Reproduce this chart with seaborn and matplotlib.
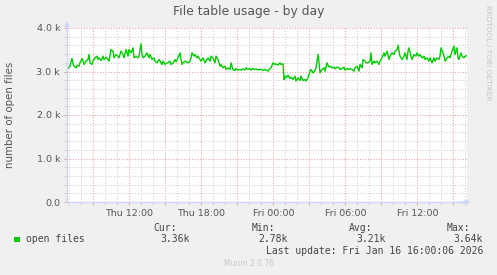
import numpy as np
import pandas as pd
import matplotlib
matplotlib.use("Agg")
import matplotlib.pyplot as plt
import matplotlib.dates as mdates
import matplotlib.ticker as mticker
from matplotlib.patches import Rectangle
import seaborn as sns

# ---------------- data ----------------
start_time = "2026-01-15 06:48"      # time of sample step 0
step_minutes = 5                      # rrd step

sample_step = [
    0, 2, 3, 5, 6, 7, 9, 10, 12, 13, 15, 16, 17, 19, 21, 22, 23, 25, 26, 28,
    30, 31, 32, 34, 36, 37, 39, 41, 42, 44, 46, 47, 49, 51, 52, 54, 56, 57, 59, 61,
    62, 64, 66, 67, 69, 71, 72, 74, 75, 76, 78, 80, 82, 83, 85, 87, 88, 90, 92, 93,
    95, 96, 98, 100,
    101, 103, 104, 106, 108, 109, 111, 113, 114, 115, 116, 118, 119, 121, 123, 124, 125, 127, 128, 130,
    131, 133, 134, 136, 138, 139, 141, 143, 144, 146, 148, 149, 151, 153, 154, 156, 158, 159, 161, 163,
    164, 166, 168, 169, 171, 173, 174, 176, 178, 179, 181, 183, 184, 186, 188, 189, 191, 193, 194, 196,
    198, 199,
    201, 203, 204, 206, 208, 209, 211, 213, 214, 216, 217, 218, 219, 221, 223, 224, 226, 228, 229, 231,
    233, 234, 236, 238, 239, 241, 243, 244, 246, 248, 249, 251, 252, 253, 255, 257, 258, 260, 262, 263,
    265, 267, 268, 270, 272, 273, 275, 277, 278, 280, 282, 283, 285, 287, 288, 290, 292, 293, 295, 296,
    298, 299,
    301, 303, 304, 305, 307, 308, 310, 312, 313, 315, 317, 318, 320, 322, 323, 325, 327, 328, 330, 331,
    332, 333, 335, 337, 338, 340, 341, 342, 344, 345, 347, 349, 350, 352, 353, 355, 357, 358, 360, 362,
    363, 365, 367, 368, 370, 372, 373, 374, 376, 377, 378, 380, 382, 383, 385, 387, 388, 390, 391, 392,
    394, 395, 397, 398, 400,
]

open_files = [
    3046, 3100, 3123, 3299, 3176, 3123, 3084, 3146, 3123, 3199, 3299, 3238, 3161, 3238, 3276, 3391, 3199, 3161, 3238, 3314,
    3352, 3276, 3314, 3253, 3352, 3276, 3329, 3276, 3238, 3506, 3467, 3314, 3391, 3352, 3314, 3467, 3391, 3314, 3506, 3352,
    3506, 3429, 3544, 3314, 3352, 3314, 3352, 3640, 3391, 3314, 3352, 3429, 3314, 3391, 3276, 3314, 3238, 3199, 3276, 3238,
    3161, 3238, 3161, 3199,
    3199, 3238, 3161, 3199, 3276, 3222, 3314, 3429, 3276, 3161, 3199, 3238, 3222, 3199, 3238, 3314, 3429, 3352, 3391, 3314,
    3352, 3276, 3238, 3314, 3199, 3238, 3314, 3238, 3352, 3314, 3199, 3352, 3276, 3123, 3161, 3084, 3123, 3046, 3084, 3046,
    3199, 3046, 3023, 3069, 3031, 3046, 3031, 3061, 3038, 3084, 3046, 3069, 3031, 3069, 3046, 3061, 3038, 3046, 3054, 3023,
    3046, 3038,
    3008, 3069, 3084, 3199, 3161, 3176, 3146, 3199, 3161, 3176, 2816, 2893, 2854, 2916, 2839, 2870, 2816, 2893, 2780, 2854,
    2793, 2893, 2793, 2816, 2780, 2854, 3008, 3046, 2969, 3023, 3084, 3391, 3199, 2969, 3046, 3084, 3008, 3199, 3100, 3123,
    3084, 3100, 3061, 3100, 3084, 3046, 3069, 3100, 3031, 3069, 3046, 3069, 3046, 3008, 3084, 3123, 3008, 3161, 3084, 3276,
    3238, 3199,
    3199, 3238, 3429, 3161, 3238, 3199, 3238, 3161, 3238, 3314, 3429, 3352, 3467, 3276, 3352, 3429, 3391, 3467, 3506, 3605,
    3467, 3352, 3276, 3352, 3429, 3276, 3467, 3544, 3352, 3276, 3391, 3352, 3429, 3352, 3391, 3314, 3352, 3276, 3314, 3238,
    3314, 3199, 3314, 3238, 3314, 3276, 3352, 3544, 3429, 3352, 3238, 3314, 3352, 3314, 3467, 3582, 3391, 3544, 3314, 3276,
    3429, 3352, 3314, 3352, 3360,
]

y_ticks = [0, 1000, 2000, 3000, 4000]
y_tick_labels = ["0.0", "1.0 k", "2.0 k", "3.0 k", "4.0 k"]
y_minor_step = 200
window_steps = 400

series_name = "open files"
stat_names = ["Cur:", "Min:", "Avg:", "Max:"]
stat_values = ["3.36k", "2.78k", "3.21k", "3.64k"]
title_text = "File table usage - by day"
ylabel_text = "number of open files"
last_update_text = "Last update: Fri Jan 16 16:00:06 2026"
footer_text = "Munin 2.0.76"
credit_text = "RRDTOOL / TOBI OETIKER"

# ---------------- styling ----------------
BACK = "#F0F0F0"
FONT = "#555555"
AXIS = "#CFD6F8"
MGRID = "#E6A3A3"
GRID = "#D2D2D2"
LINE = "#00CC00"

t0 = pd.Timestamp(start_time)
df = pd.DataFrame({
    "time": t0 + pd.to_timedelta(np.array(sample_step) * step_minutes, unit="min"),
    "files": open_files,
})

W, H = 497, 275
fig = plt.figure(figsize=(W / 100, H / 100), dpi=100, facecolor=BACK)
ax = fig.add_axes([67 / W, 1 - 202 / H, 400 / W, 174 / H])
ax.set_facecolor("white")

sns.lineplot(data=df, x="time", y="files", ax=ax, color=LINE, linewidth=1.0)

ax.set_xlim(t0, t0 + pd.Timedelta(minutes=window_steps * step_minutes))
ax.set_ylim(y_ticks[0], y_ticks[-1])
ax.set_xlabel("")
ax.set_ylabel("")

ax.yaxis.set_major_locator(mticker.FixedLocator(y_ticks))
ax.yaxis.set_major_formatter(mticker.FixedFormatter(y_tick_labels))
ax.yaxis.set_minor_locator(mticker.MultipleLocator(y_minor_step))

ax.xaxis.set_major_locator(mdates.HourLocator(byhour=range(0, 24, 3)))
ax.xaxis.set_minor_locator(mdates.HourLocator())


def fmt(v, pos):
    d = mdates.num2date(v)
    return d.strftime("%a %H:%M") if d.hour % 6 == 0 else ""


ax.xaxis.set_major_formatter(mticker.FuncFormatter(fmt))

ax.set_axisbelow(True)
ax.grid(which="major", color=MGRID, linestyle=(0, (1, 1.6)), linewidth=0.75)
ax.grid(which="minor", color=GRID, linestyle=(0, (1, 1.6)), linewidth=0.75)

ax.tick_params(which="major", length=2.5, width=0.75, color=MGRID,
               labelcolor=FONT, labelsize=6.8, pad=2.5)
ax.tick_params(which="minor", length=2.5, width=0.75, color=GRID)

for s in ["top", "right"]:
    ax.spines[s].set_visible(False)
for s in ["left", "bottom"]:
    ax.spines[s].set_color(AXIS)
    ax.spines[s].set_linewidth(1.0)

ax.annotate("", xy=(0, 1.04), xytext=(0, 0.98), xycoords="axes fraction",
            arrowprops=dict(arrowstyle="-|>", color=AXIS, lw=1.0, mutation_scale=7,
                            shrinkA=0, shrinkB=0), annotation_clip=False)
ax.annotate("", xy=(1.009, 0), xytext=(0.98, 0), xycoords="axes fraction",
            arrowprops=dict(arrowstyle="-|>", color=AXIS, lw=1.0, mutation_scale=7,
                            shrinkA=0, shrinkB=0), annotation_clip=False)


def P(x, y):
    return x / W, 1 - y / H


fig.text(*P(248.5, 12), title_text, ha="center", va="center", fontsize=8.9,
         color=FONT, family="DejaVu Sans")
fig.text(*P(10, 115), ylabel_text, ha="center", va="center", rotation=90,
         fontsize=7.4, color=FONT, family="DejaVu Sans")
fig.text(*P(488, 53), credit_text, ha="center", va="center", rotation=270,
         fontsize=5.4, color="#C4C4C4", family="DejaVu Sans")

mono = dict(family="DejaVu Sans Mono", fontsize=7.0, color="#444444")
fig.add_artist(Rectangle(P(14, 242), 6 / W, 5.5 / H, transform=fig.transFigure,
                         facecolor=LINE, edgecolor="none"))
fig.text(*P(26.5, 239.5), series_name, ha="left", va="center", **mono)
name_right = [177, 275, 372.5, 470.5]
val_right = [189.5, 287.5, 385.5, 483]
for nm, vv, xn, xv in zip(stat_names, stat_values, name_right, val_right):
    fig.text(*P(xn, 228), nm, ha="right", va="center", **mono)
    fig.text(*P(xv, 239.5), vv, ha="right", va="center", **mono)
fig.text(*P(483, 251.5), last_update_text, ha="right", va="center", **mono)
fig.text(*P(248.5, 264), footer_text, ha="center", va="center", fontsize=5.5,
         color="#C8C8C8", family="DejaVu Sans")

fig.savefig("out.png", dpi=100, facecolor=BACK)
